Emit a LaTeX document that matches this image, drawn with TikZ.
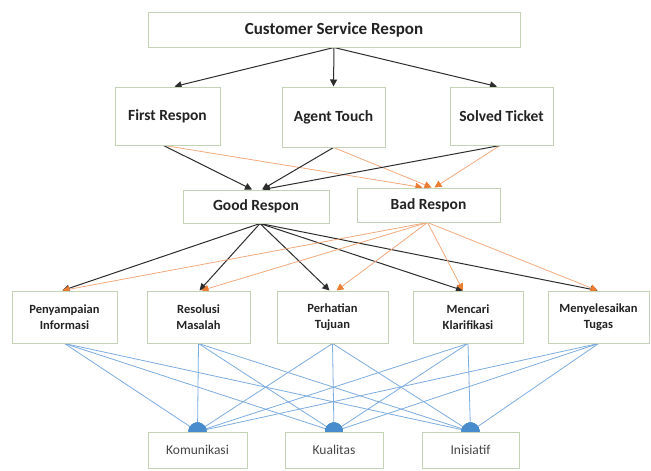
\documentclass[tikz,border=0pt]{standalone}
\usepackage{fontspec}
\setmainfont{Carlito}
\usetikzlibrary{arrows.meta,calc}
\pgfdeclarelayer{paper}
\pgfdeclarelayer{links}
\pgfsetlayers{paper,links,main}
\definecolor{boxedge}{RGB}{196,210,182}
\definecolor{blk}{RGB}{45,45,45}
\definecolor{org}{RGB}{242,170,125}
\definecolor{orgtip}{RGB}{237,125,49}
\definecolor{blu}{RGB}{125,172,222}
\definecolor{blutip}{RGB}{72,140,205}
\definecolor{txt}{RGB}{35,35,35}
\begin{document}
\begin{tikzpicture}[x=1pt,y=-1pt,
  box/.style={draw=boxedge,line width=1pt,fill=white,inner sep=0pt,align=center,text=txt},
  lvA/.style={box,font=\bfseries\fontsize{17}{19}\selectfont},
  lvB/.style={box,font=\bfseries\fontsize{15.5}{18}\selectfont},
  lvD/.style={box,font=\bfseries\fontsize{12.5}{15.5}\selectfont},
  lvE/.style={box,font=\fontsize{13.5}{15}\selectfont,text={rgb,255:red,70;green,70;blue,70}},
  blackarrow/.style={draw=blk,line width=1pt,-{Triangle[length=7pt,width=7pt]}},
  orangearrow/.style={draw=org,line width=0.8pt,-{Triangle[length=7pt,width=7pt,color=orgtip]}},
  bluearrow/.style={draw=blu,line width=0.8pt,-{Circle[length=18pt,width=18pt,color=blutip]},shorten >=-9pt}
]
\begin{pgfonlayer}{paper}
\fill[white] (0,0) rectangle (651,471);
\end{pgfonlayer}
\path[use as bounding box] (0,0) rectangle (651,471);

% nodes
\node[lvA,minimum width=372pt,minimum height=35pt] (top) at (334,29.5) {Customer Service Respon};
\node[lvB,minimum width=105pt,minimum height=58pt] (fr) at (167.5,116) {First Respon};
\node[lvB,minimum width=103pt,minimum height=60pt] (at) at (333.5,117) {Agent Touch};
\node[lvB,minimum width=103pt,minimum height=58pt] (st) at (501.5,116) {Solved Ticket};
\node[lvB,minimum width=146pt,minimum height=33pt] (good) at (256,206.5) {Good Respon};
\node[lvB,minimum width=143pt,minimum height=34pt] (bad) at (428.5,205) {Bad Respon};
\node[lvD,minimum width=105pt,minimum height=52pt] (p1) at (64.5,317) {Penyampaian\\Informasi};
\node[lvD,minimum width=103pt,minimum height=52pt] (p2) at (198.5,317) {Resolusi\\Masalah};
\node[lvD,minimum width=111pt,minimum height=52pt] (p3) at (332.5,317) {Perhatian\\Tujuan};
\node[lvD,minimum width=110pt,minimum height=52pt] (p4) at (468,317) {Mencari\\Klarifikasi};
\node[lvD,minimum width=101pt,minimum height=52pt] (p5) at (598.5,317) {Menyelesaikan\\Tugas};
\node[lvE,minimum width=99pt,minimum height=36pt] (k1) at (197.5,450) {Komunikasi};
\node[lvE,minimum width=98pt,minimum height=36pt] (k2) at (334,450) {Kualitas};
\node[lvE,minimum width=97pt,minimum height=36pt] (k3) at (470.5,450) {Inisiatif};

\begin{pgfonlayer}{links}
% level 1 -> 2
\draw[blackarrow] (top.south) -- ($(fr.north)+(7,0)$);
\draw[blackarrow] (top.south) -- (at.north);
\draw[blackarrow] (top.south) -- ($(st.north)+(-4.5,0)$);

% level 2 -> 3 (orange)
\draw[orangearrow] ($(fr.south)+(-3,0)$) -- ($(bad.north)+(-6,0)$);
\draw[orangearrow] (at.south) -- ($(bad.north)+(3,0)$);
\draw[orangearrow] ($(st.south)+(-1.5,0)$) -- ($(bad.north)+(6,0)$);
% level 2 -> 3 (black)
\draw[blackarrow] ($(fr.south)+(-4,0)$) -- ($(good.north)+(-4,0)$);
\draw[blackarrow] (at.south) -- ($(good.north)+(6,0)$);
\draw[blackarrow] ($(st.south)+(-1.5,0)$) -- ($(good.north)+(7,0)$);

% level 3 -> 4
\coordinate (gs) at ($(good.south)+(4,0)$);
\coordinate (bs) at ($(bad.south)+(-1,0)$);
\draw[blackarrow] (gs) -- ($(p1.north)+(-2,0)$);
\draw[blackarrow] (gs) -- ($(p2.north)+(1,0)$);
\draw[blackarrow] (gs) -- ($(p3.north)+(-3,0)$);
\draw[blackarrow] (gs) -- ($(p4.north)+(-5,0)$);
\draw[blackarrow] (gs) -- ($(p5.north)+(-1,0)$);
\draw[orangearrow] (bs) -- ($(p1.north)+(-2,0)$);
\draw[orangearrow] (bs) -- ($(p2.north)+(3,0)$);
\draw[orangearrow] (bs) -- ($(p3.north)+(4,0)$);
\draw[orangearrow] (bs) -- ($(p4.north)+(-5,0)$);
\draw[orangearrow] (bs) -- ($(p5.north)+(-1,0)$);

% level 4 -> 5
\foreach \s in {p1,p2,p3,p4,p5}{
  \foreach \t in {k1,k2,k3}{
    \draw[bluearrow] (\s.south) -- (\t.north);
  }
}
\end{pgfonlayer}
\end{tikzpicture}
\end{document}
